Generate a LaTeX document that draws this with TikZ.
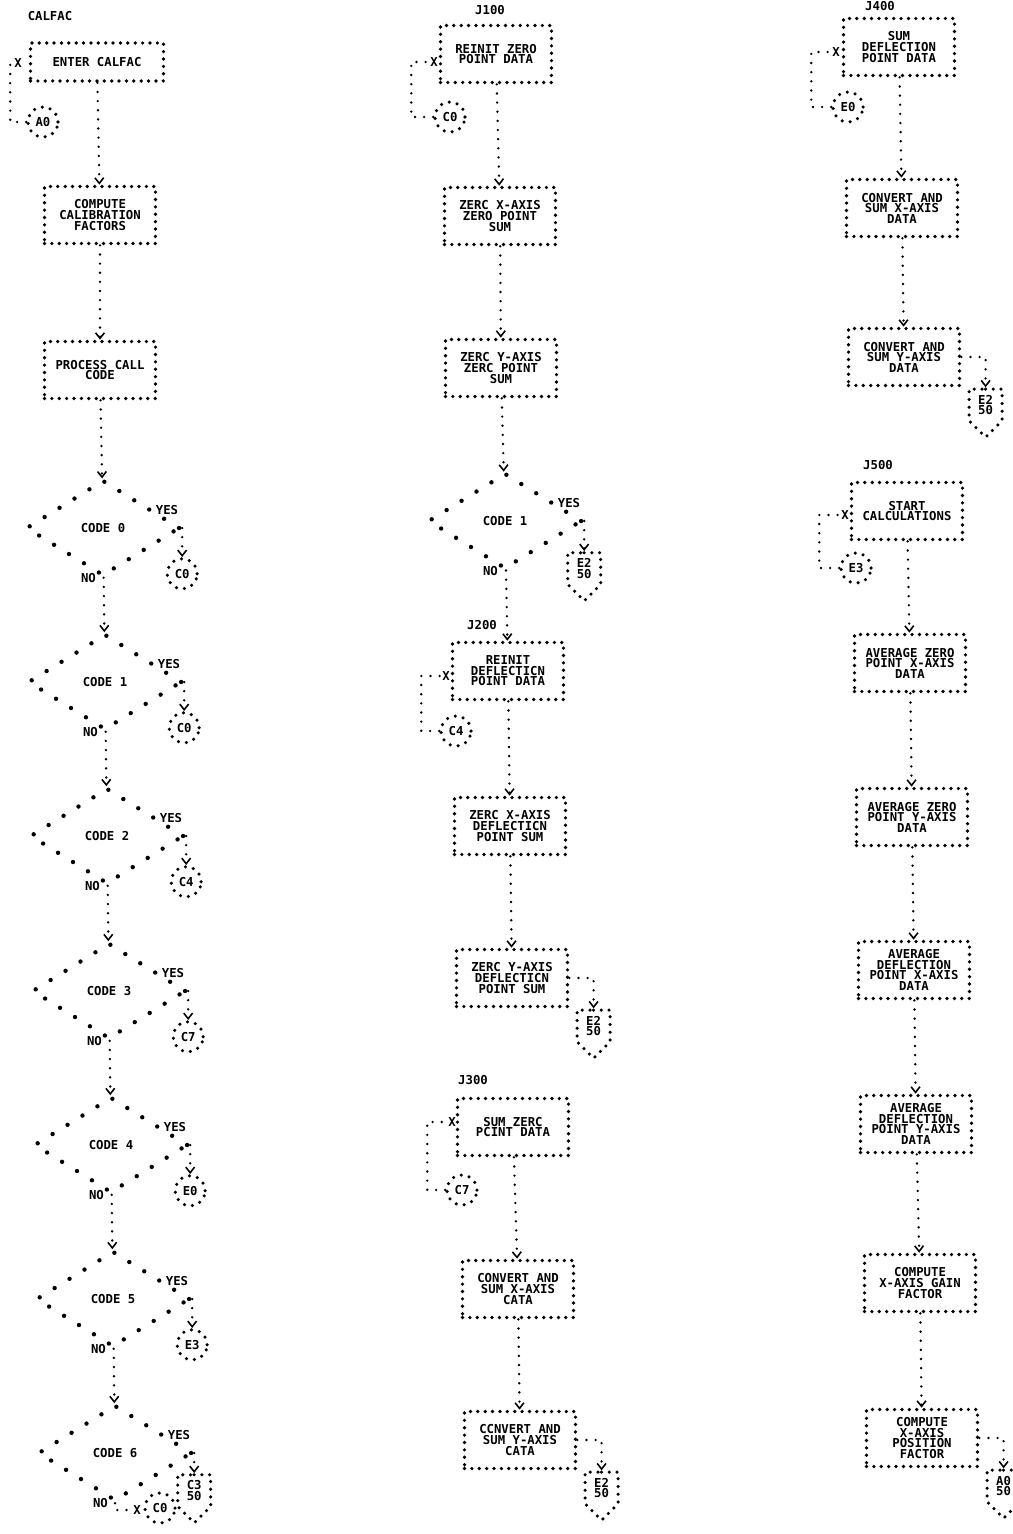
\documentclass[tikz,border=0pt]{standalone}
\usepackage{fontspec}
\setmonofont{DejaVu Sans Mono}
\usetikzlibrary{positioning,arrows.meta,shapes.geometric,shapes.symbols}

\begin{document}
\begin{tikzpicture}[x=0.02cm, y=-0.02cm,
  every node/.style={font=\ttfamily\bfseries\fontsize{7}{6}\selectfont},
  proc/.style={draw, line width=2.1pt, line cap=round, dash pattern=on 0pt off 4.2pt,
               minimum width=2.22cm, minimum height=1.14cm, align=center, inner sep=1pt},
  dec/.style={diamond, draw, line width=2.5pt, line cap=round, dash pattern=on 0pt off 10pt,
              minimum width=3.08cm, minimum height=1.92cm, inner sep=0pt},
  conn/.style={circle, draw, line width=2pt, line cap=round, dash pattern=on 0pt off 4.6pt,
               minimum size=0.6cm, inner sep=0pt},
  offpg/.style={signal, signal to=south, draw, line width=2pt, line cap=round,
                dash pattern=on 0pt off 4.4pt, minimum width=0.66cm, minimum height=0.78cm,
                inner sep=0pt, align=center},
  flow/.style={line width=1.5pt, line cap=round, dash pattern=on 0pt off 5.2pt},
  arr/.style={flow, -{Straight Barb[length=3.2pt,width=5pt,line width=0.9pt]}},
  lab/.style={inner sep=1pt}]
\useasboundingbox (0,0) rectangle (1013,1534);

% CALFAC
\node[lab] (tcal) at (50,16) {CALFAC};
\node[proc, minimum width=2.66cm, minimum height=0.76cm] (enter) at (97,62) {ENTER CALFAC};
\node[conn] (a0) at (43,122) {A0};
\node[lab] (xa) at (18,63) {X};
\node[proc] (comp) at (100,215) {COMPUTE\\CALIBRATION\\FACTORS};
\node[proc] (call) at (100,370) {PROCESS CALL\\CODE};
\node[dec] (d0) at (103,528) {CODE 0};
\node[dec] (d1) at (105,682) {CODE 1};
\node[dec] (d2) at (107,836) {CODE 2};
\node[dec] (d3) at (109,991) {CODE 3};
\node[dec] (d4) at (111,1145) {CODE 4};
\node[dec] (d5) at (113,1299) {CODE 5};
\node[dec] (d6) at (115,1453) {CODE 6};
\node[conn, below=0.58cm of d0.east] (c0a) {C0};
\node[conn, below=0.58cm of d1.east] (c0b) {C0};
\node[conn, below=0.58cm of d2.east] (c4a) {C4};
\node[conn, below=0.58cm of d3.east] (c7a) {C7};
\node[conn, below=0.58cm of d4.east] (e0a) {E0};
\node[conn, below=0.58cm of d5.east] (e3a) {E3};
\node[offpg, below=0.4cm of d6.east] (c3) {C3\\50};
\node[conn] (c0c) at (160,1508) {C0};
\node[lab] (xg) at (137,1510) {X};
\foreach \d in {d0,d1,d2,d3,d4,d5,d6}{
  \node[lab, above left=0.22cm and 0.04cm of \d.east] (yes\d) {YES};
  \node[lab, left=0.1cm of \d.south] (no\d) {NO};
}
\draw[flow] (a0.west) -- ++(-16,0) |- (xa);
\draw[arr] (enter) -- (comp);
\draw[arr] (comp) -- (call);
\draw[arr] (call) -- (d0);
\draw[arr] (d0) -- (d1);
\draw[arr] (d1) -- (d2);
\draw[arr] (d2) -- (d3);
\draw[arr] (d3) -- (d4);
\draw[arr] (d4) -- (d5);
\draw[arr] (d5) -- (d6);
\draw[arr] (d0.east) -- (c0a);
\draw[arr] (d1.east) -- (c0b);
\draw[arr] (d2.east) -- (c4a);
\draw[arr] (d3.east) -- (c7a);
\draw[arr] (d4.east) -- (e0a);
\draw[arr] (d5.east) -- (e3a);
\draw[arr] (d6.east) -- (c3);
\draw[flow] (d6.south) |- (xg);

% J100 - J300
\node[lab] (tj1) at (490,10) {J100};
\node[proc] (z1) at (496,54) {REINIT ZERO\\POINT DATA};
\node[conn] (c0d) at (450,117) {C0};
\node[lab] (xb) at (434,62) {X};
\node[proc] (z2) at (500,216) {ZERC X-AXIS\\ZERO POINT\\SUM};
\node[proc] (z3) at (501,368) {ZERC Y-AXIS\\ZERC POINT\\SUM};
\node[dec] (e1) at (505,521) {CODE 1};
\node[offpg, below=0.6cm of e1.east] (e2a) {E2\\50};
\node[lab, above left=0.22cm and 0.04cm of e1.east] (yese1) {YES};
\node[lab, left=0.1cm of e1.south] (noe1) {NO};
\node[lab] (tj2) at (482,625) {J200};
\node[proc] (z4) at (508,671) {REINIT\\DEFLECTICN\\POINT DATA};
\node[conn] (c4b) at (456,731) {C4};
\node[lab] (xc) at (446,676) {X};
\node[proc] (z5) at (510,826) {ZERC X-AXIS\\DEFLECTICN\\POINT SUM};
\node[proc] (z6) at (512,978) {ZERC Y-AXIS\\DEFLECTICN\\POINT SUM};
\node[offpg, below right=0cm and 0.12cm of z6.south east] (e2b) {E2\\50};
\node[lab] (tj3) at (473,1080) {J300};
\node[proc] (z7) at (513,1127) {SUM ZERC\\PCINT DATA};
\node[conn] (c7b) at (462,1190) {C7};
\node[lab] (xd) at (452,1122) {X};
\node[proc] (z8) at (518,1289) {CONVERT AND\\SUM X-AXIS\\CATA};
\node[proc] (z9) at (520,1440) {CCNVERT AND\\SUM Y-AXIS\\CATA};
\node[offpg, below right=0cm and 0.12cm of z9.south east] (e2c) {E2\\50};
\draw[flow] (c0d.west) -- ++(-22,0) |- (xb);
\draw[arr] (z1) -- (z2);
\draw[arr] (z2) -- (z3);
\draw[arr] (z3) -- (e1);
\draw[arr] (e1.east) -- (e2a);
\draw[arr] (e1) -- (z4);
\draw[flow] (c4b.west) -- ++(-18,0) |- (xc);
\draw[arr] (z4) -- (z5);
\draw[arr] (z5) -- (z6);
\draw[arr] (z6.east) -| (e2b.north);
\draw[flow] (c7b.west) -- ++(-18,0) |- (xd);
\draw[arr] (z7) -- (z8);
\draw[arr] (z8) -- (z9);
\draw[arr] (z9.east) -| (e2c.north);

% J400 - J500
\node[lab] (tj4) at (880,6) {J400};
\node[proc] (y1) at (899,47) {SUM\\DEFLECTION\\POINT DATA};
\node[conn] (e0b) at (848,107) {E0};
\node[lab] (xe) at (836,52) {X};
\node[proc] (y2) at (902,208) {CONVERT AND\\SUM X-AXIS\\DATA};
\node[proc] (y3) at (904,357) {CONVERT AND\\SUM Y-AXIS\\DATA};
\node[offpg, below right=0cm and 0.12cm of y3.south east] (e2d) {E2\\50};
\node[lab] (tj5) at (878,465) {J500};
\node[proc] (y4) at (907,511) {START\\CALCULATIONS};
\node[conn] (e3b) at (856,568) {E3};
\node[lab] (xf) at (845,515) {X};
\node[proc] (y5) at (910,663) {AVERAGE ZERO\\POINT X-AXIS\\DATA};
\node[proc] (y6) at (912,817) {AVERAGE ZERO\\POINT Y-AXIS\\DATA};
\node[proc] (y7) at (914,970) {AVERAGE\\DEFLECTION\\POINT X-AXIS\\DATA};
\node[proc] (y8) at (916,1124) {AVERAGE\\DEFLECTION\\POINT Y-AXIS\\DATA};
\node[proc] (y9) at (920,1283) {COMPUTE\\X-AXIS GAIN\\FACTOR};
\node[proc] (y10) at (922,1438) {COMPUTE\\X-AXIS\\POSITION\\FACTOR};
\node[offpg, below right=0cm and 0.12cm of y10.south east] (a0b) {A0\\50};
\draw[flow] (e0b.west) -- ++(-20,0) |- (xe);
\draw[arr] (y1) -- (y2);
\draw[arr] (y2) -- (y3);
\draw[arr] (y3.east) -| (e2d.north);
\draw[flow] (e3b.west) -- ++(-20,0) |- (xf);
\draw[arr] (y4) -- (y5);
\draw[arr] (y5) -- (y6);
\draw[arr] (y6) -- (y7);
\draw[arr] (y7) -- (y8);
\draw[arr] (y8) -- (y9);
\draw[arr] (y9) -- (y10);
\draw[arr] (y10.east) -| (a0b.north);
\end{tikzpicture}
\end{document}
